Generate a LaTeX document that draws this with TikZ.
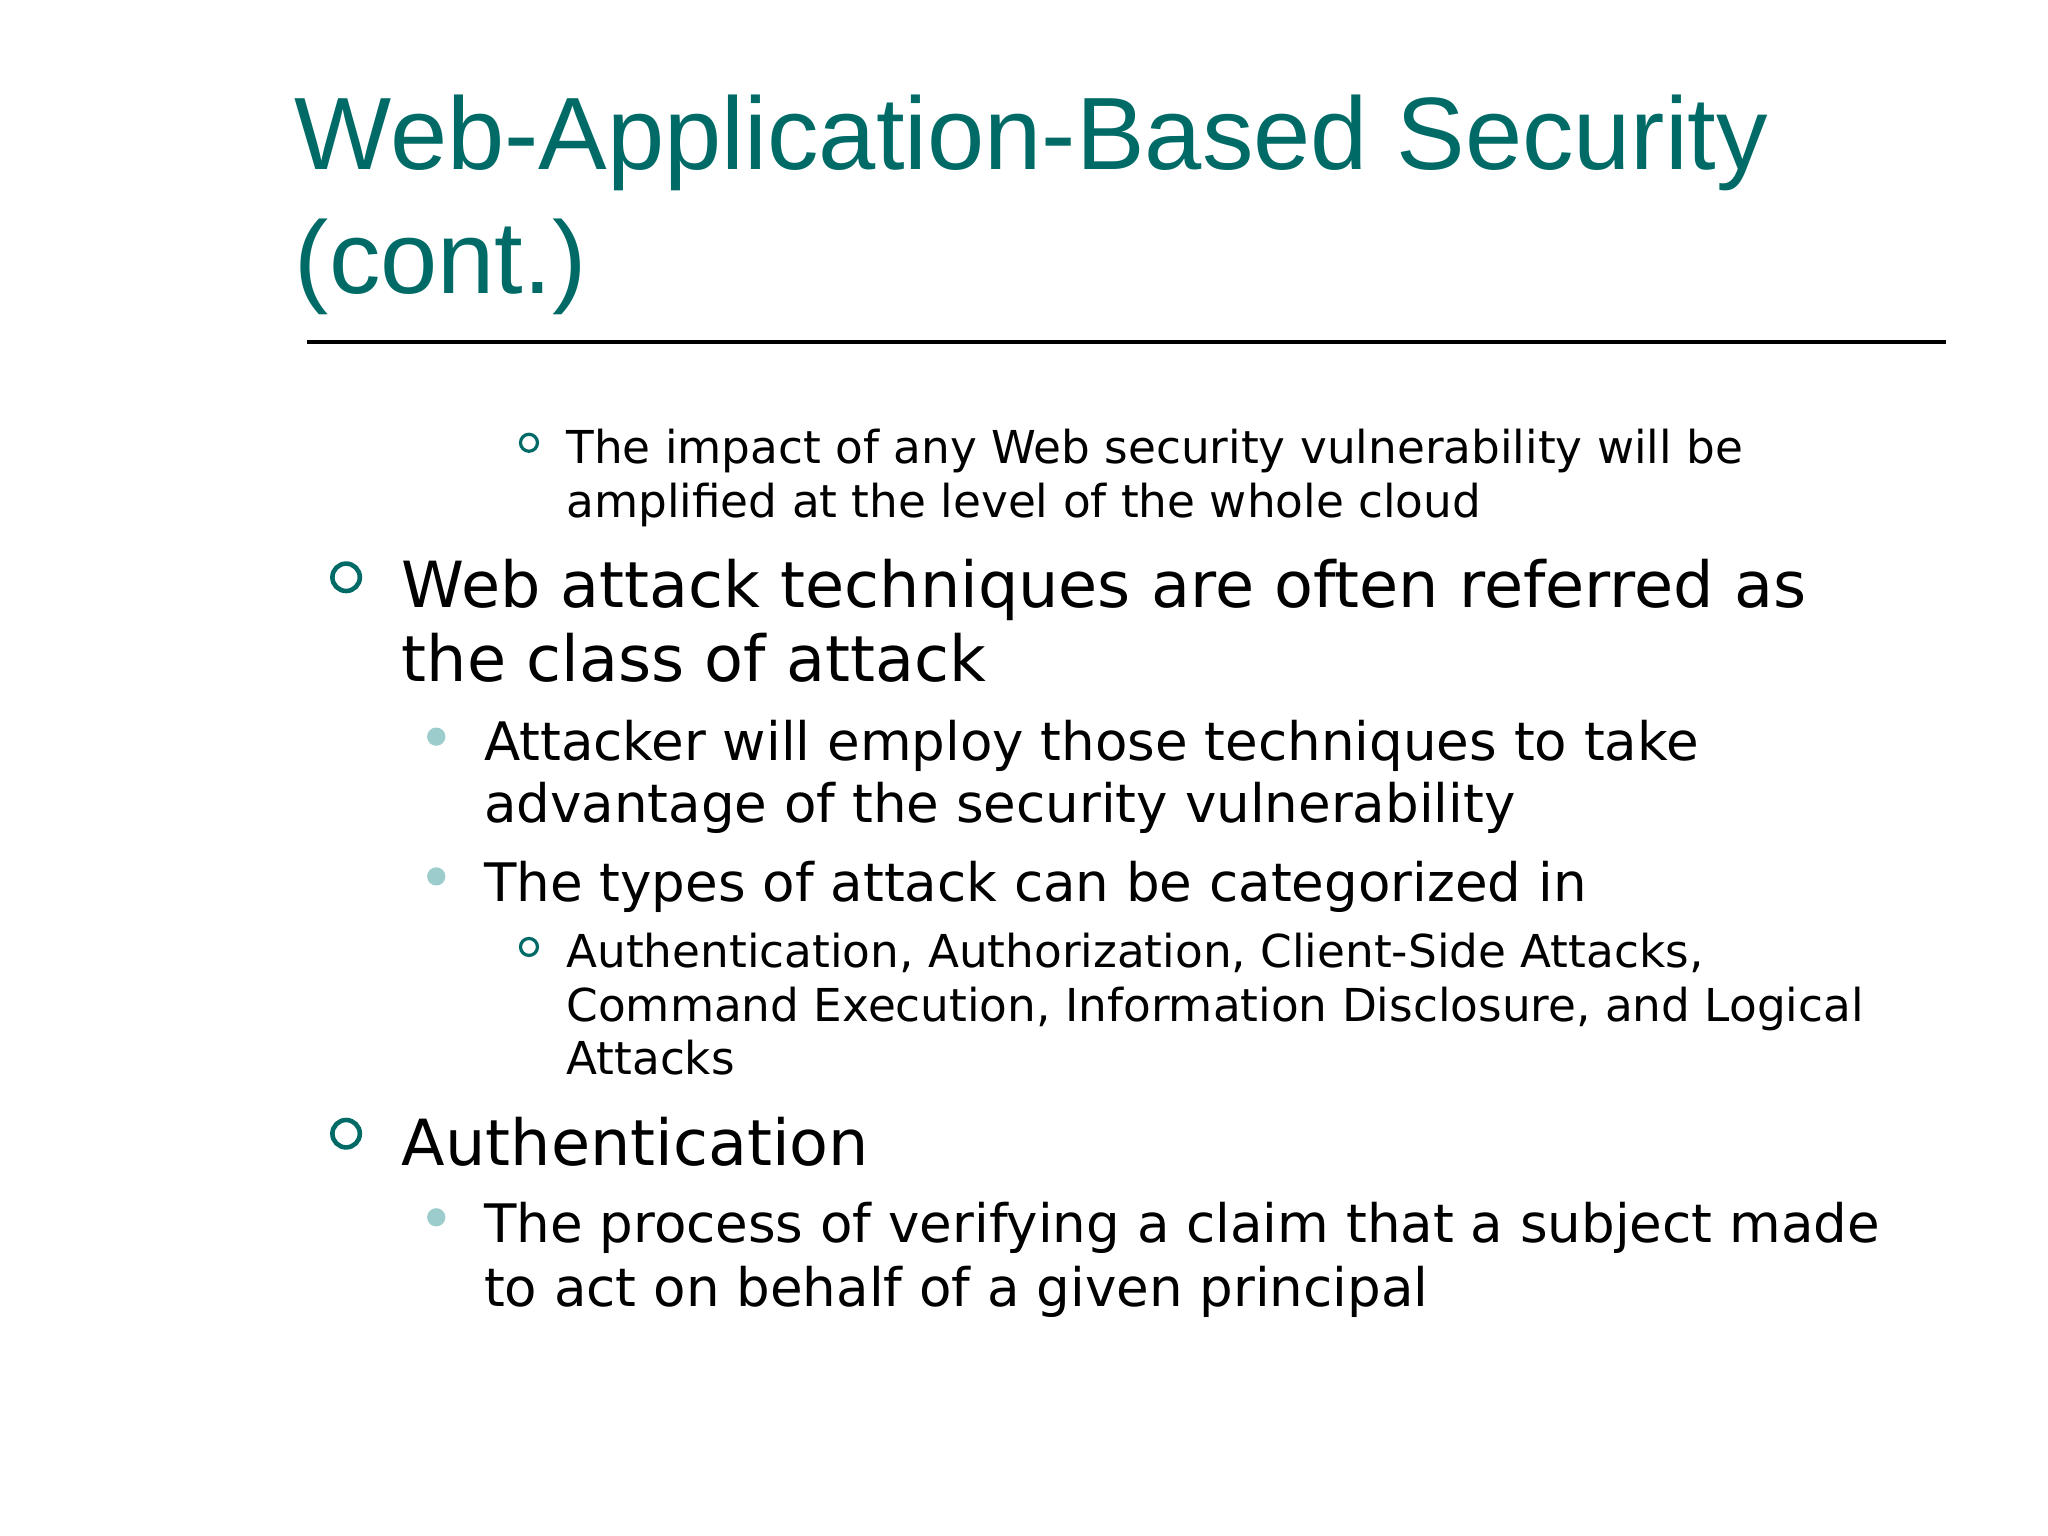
\documentclass[tikz,border=0pt]{standalone}
\usepackage{fontspec}
\setmainfont{DejaVu Sans}
\newfontfamily\titlefont{Liberation Sans}
\definecolor{teal1}{HTML}{006B66}
\definecolor{teal2}{HTML}{9CCCCC}
\begin{document}
\begin{tikzpicture}[x=0.01cm,y=-0.01cm,
  t/.style={anchor=base west,inner sep=0pt},
  ttl/.style={t,font=\titlefont\fontsize{22.4}{27}\selectfont,text=teal1},
  l1/.style={t,font=\fontsize{13.85}{16}\selectfont},
  l2/.style={t,font=\fontsize{11.55}{14}\selectfont},
  l3/.style={t,font=\fontsize{9.87}{12}\selectfont},
  hb/.style={draw=teal1,line width=1pt},
  hs/.style={draw=teal1,line width=0.7pt},
  fb/.style={fill=teal2}]
\useasboundingbox (0,0) rectangle (1568,1176);
\node[ttl] (t1) at (225,130) {Web-Application-Based Security};
\node[ttl] (t2) at (225,225) {(cont.)};
\draw[line width=0.8pt] (235,262) -- (1490,262);
\draw[hs] (405,339) circle (6.5);
\node[l3] (a1) at (433,355) {The impact of any Web security vulnerability will be};
\node[l3] (a2) at (433,396) {amplified at the level of the whole cloud};
\draw[hb] (265,442) circle (10.5);
\node[l1] (b1) at (307,465) {Web attack techniques are often referred as};
\node[l1] (b2) at (307,522) {the class of attack};
\fill[fb] (334,564) circle (7);
\node[l2] (c1) at (370,582) {Attacker will employ those techniques to take};
\node[l2] (c2) at (370,630) {advantage of the security vulnerability};
\fill[fb] (334,671) circle (7);
\node[l2] (c3) at (370,690) {The types of attack can be categorized in};
\draw[hs] (405,725) circle (6.5);
\node[l3] (d1) at (433,741) {Authentication, Authorization, Client-Side Attacks,};
\node[l3] (d2) at (433,782) {Command Execution, Information Disclosure, and Logical};
\node[l3] (d3) at (433,823) {Attacks};
\draw[hb] (265,868) circle (10.5);
\node[l1] (e1) at (307,892) {Authentication};
\fill[fb] (334,932) circle (7);
\node[l2] (f1) at (370,951) {The process of verifying a claim that a subject made};
\node[l2] (f2) at (370,1000) {to act on behalf of a given principal};
\end{tikzpicture}
\end{document}
